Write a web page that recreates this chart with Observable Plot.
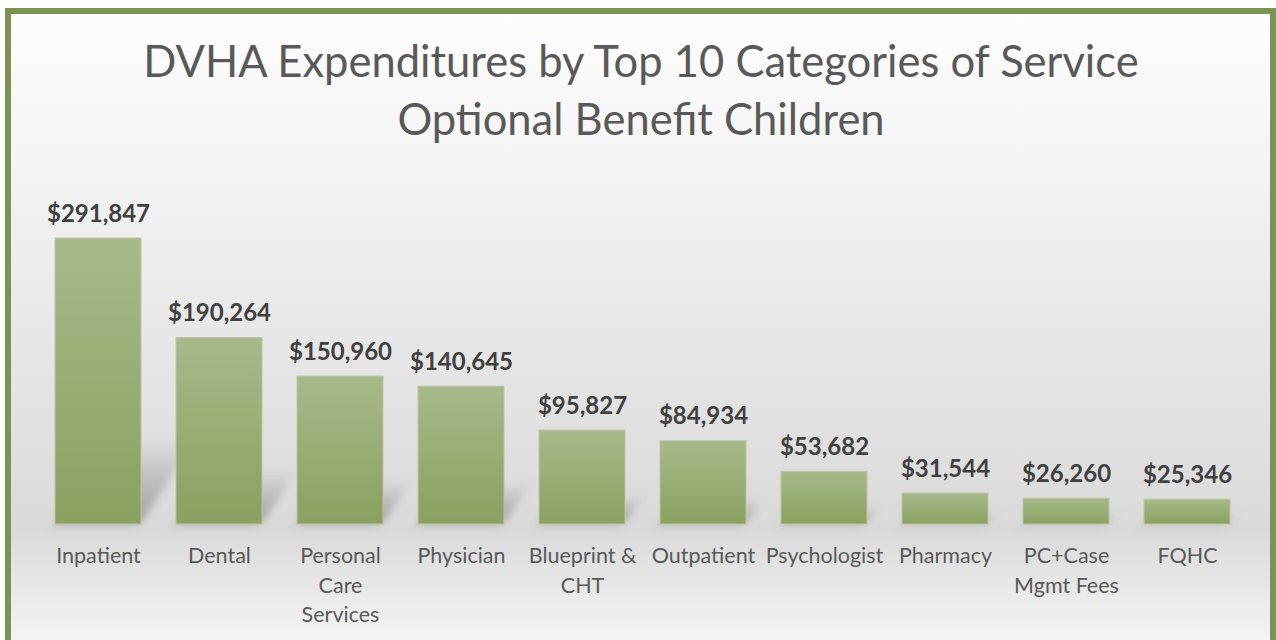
<!DOCTYPE html>
<html>
<head>
<meta charset="utf-8">
<script src="https://cdn.jsdelivr.net/npm/d3@7"></script>
<script src="https://cdn.jsdelivr.net/npm/@observablehq/plot@0.6"></script>
<style>
  html, body { margin: 0; padding: 0; width: 1276px; height: 640px; overflow: hidden; background: #fff; }
  #frame {
    position: absolute; left: 5px; top: 8px; width: 1271px; height: 700px;
    box-sizing: border-box; border: 6px solid #7b9452;
    background: linear-gradient(to bottom, #fdfdfd 0%, #f6f6f6 18%, #e8e8e8 45%, #dadada 75%, #ececec 86%, #fafafa 95%, #fdfdfd 100%);
  }
  #title {
    position: absolute; left: 0; top: 31px; width: 1282px; text-align: center;
    font-family: Lato, "Open Sans", sans-serif; font-size: 43.5px; line-height: 58px; color: #595959;
  }
  #chart { position: absolute; left: 0; top: 150px; }
</style>
</head>
<body>
<div id="frame"></div>
<div id="title">DVHA Expenditures by Top 10 Categories of Service<br>Optional Benefit Children</div>
<div id="chart"></div>
<script>
const categories = ["Inpatient", "Dental", "Personal\nCare\nServices", "Physician", "Blueprint &\nCHT", "Outpatient", "Psychologist", "Pharmacy", "PC+Case\nMgmt Fees", "FQHC"];
const values = [291847, 190264, 150960, 140645, 95827, 84934, 53682, 31544, 26260, 25346];

const data = categories.map((c, i) => ({cat: c, value: values[i]}));
const fmt = d3.format(",");

const plot = Plot.plot({
  width: 1276,
  height: 490,
  marginTop: 88,
  marginBottom: 116,
  marginLeft: 37.5,
  marginRight: 28.5,
  style: {background: "transparent", fontFamily: "Lato, 'Open Sans', sans-serif"},
  x: {domain: categories, paddingInner: 0.29, paddingOuter: 0.145},
  y: {domain: [0, d3.max(values)], axis: null},
  marks: [
    Plot.barY(data, {x: "cat", y: d => d.value * 0.3, fill: "url(#shadowGrad)", ariaDescription: "shadow"}),
    Plot.barY(data, {x: "cat", y: "value", fill: "url(#barGrad)", stroke: "#b9c7a0", strokeWidth: 1}),
    Plot.text(data, {x: "cat", y: "value", text: d => "$" + fmt(d.value), lineAnchor: "bottom", dy: -17, fontSize: 24, fontWeight: "bold", fill: "#404040"}),
    Plot.axisX({tickSize: 0, tickPadding: 18, fontSize: 21.5, lineHeight: 1.36, color: "#595959", label: null})
  ]
});

// gradient + shadow styling
const svg = d3.select(plot);
const defs = svg.insert("defs", ":first-child");
const g = defs.append("linearGradient").attr("id", "barGrad").attr("x1", 0).attr("y1", 0).attr("x2", 0).attr("y2", 1);
g.append("stop").attr("offset", "0%").attr("stop-color", "#a7b98a");
g.append("stop").attr("offset", "100%").attr("stop-color", "#8aa160");
const sg = defs.append("linearGradient").attr("id", "shadowGrad").attr("x1", 0).attr("y1", 0).attr("x2", 0).attr("y2", 1);
sg.append("stop").attr("offset", "0%").attr("stop-color", "#606060").attr("stop-opacity", 0);
sg.append("stop").attr("offset", "55%").attr("stop-color", "#606060").attr("stop-opacity", 0.28);
sg.append("stop").attr("offset", "100%").attr("stop-color", "#606060").attr("stop-opacity", 0.45);
const f = defs.append("filter").attr("id", "shadowBlur")
  .attr("x", "-50%").attr("y", "-50%").attr("width", "200%").attr("height", "200%");
f.append("feGaussianBlur").attr("stdDeviation", 5);
const y0 = plot.scale("y").apply(0);
svg.select("g[aria-description=shadow]")
  .attr("transform", `translate(0,${y0}) skewX(-32) translate(0,${-y0})`)
  .attr("filter", "url(#shadowBlur)");

document.getElementById("chart").appendChild(plot);
</script>
</body>
</html>
